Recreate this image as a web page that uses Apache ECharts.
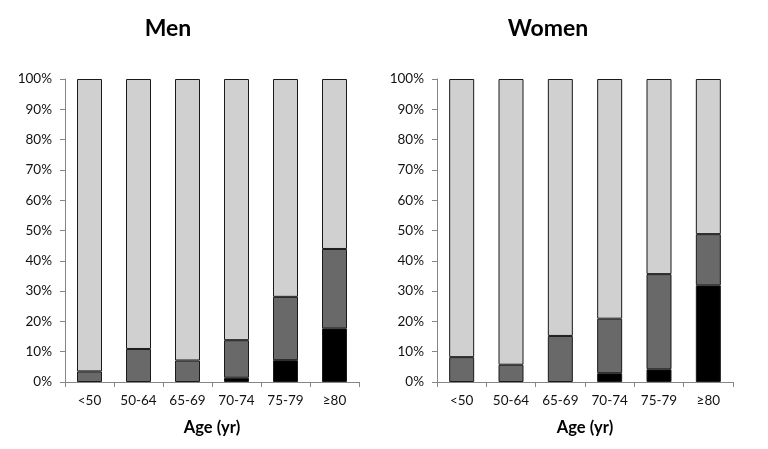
<!DOCTYPE html>
<html>
<head>
<meta charset="utf-8">
<script src="https://cdn.jsdelivr.net/npm/echarts@6/dist/echarts.min.js"></script>
<style>html,body{margin:0;padding:0;background:#fff;}#c{width:768px;height:449px;}</style>
</head>
<body>
<div id="c"></div>
<script>
const categories = ['<50', '50-64', '65-69', '70-74', '75-79', '≥80'];
const menBlack = [0, 0, 0, 1.4, 7.2, 17.7];
const menDark = [3.5, 10.9, 7.1, 12.4, 20.9, 26.2];
const menLight = [96.5, 89.1, 92.9, 86.2, 71.9, 56.1];
const womenBlack = [0, 0, 0, 2.9, 4.2, 31.9];
const womenDark = [8.2, 5.7, 15.2, 18.0, 31.4, 16.9];
const womenLight = [91.8, 94.3, 84.8, 79.1, 64.4, 51.2];
const panelTitles = ['Men', 'Women'];
const xName = 'Age (yr)';

const FONT = 'Lato, "Open Sans", sans-serif';
const axisColor = '#868686';
const chart = echarts.init(document.getElementById('c'));

function xAxis(i) {
  return {
    type: 'category', gridIndex: i, data: categories,
    name: xName, nameLocation: 'middle', nameGap: 37,
    nameTextStyle: { fontFamily: FONT, fontSize: 16.5, fontWeight: 'bold', color: '#000' },
    axisLine: { lineStyle: { color: axisColor, width: 1 } },
    axisTick: { show: true, alignWithLabel: false, length: 5, lineStyle: { color: axisColor } },
    axisLabel: { fontFamily: FONT, fontSize: 13.5, color: '#111', margin: 12 },
    splitLine: { show: false }
  };
}
function yAxis(i) {
  return {
    type: 'value', gridIndex: i, min: 0, max: 100, interval: 10,
    axisLine: { show: true, lineStyle: { color: axisColor, width: 1 } },
    axisTick: { show: true, length: 5, lineStyle: { color: axisColor } },
    axisLabel: { fontFamily: FONT, fontSize: 13.5, color: '#111', margin: 13, formatter: '{value}%' },
    splitLine: { show: false }
  };
}
function bar(i, data, color, stack) {
  return {
    type: 'bar', xAxisIndex: i, yAxisIndex: i, stack: stack,
    data: data.map(v => (v === 0 ? null : v)),
    barWidth: 25, silent: true,
    itemStyle: { color: color, borderColor: '#1a1a1a', borderWidth: 1 }
  };
}

chart.setOption({
  animation: false,
  title: [
    { text: panelTitles[0], left: 163, top: 12, textAlign: 'center',
      textStyle: { fontFamily: FONT, fontSize: 23, fontWeight: 'bold', color: '#000' } },
    { text: panelTitles[1], left: 543, top: 12, textAlign: 'center',
      textStyle: { fontFamily: FONT, fontSize: 23, fontWeight: 'bold', color: '#000' } }
  ],
  grid: [
    { left: 65, right: 409, top: 79, bottom: 67 },
    { left: 437, right: 35, top: 79, bottom: 67 }
  ],
  xAxis: [xAxis(0), xAxis(1)],
  yAxis: [yAxis(0), yAxis(1)],
  series: [
    bar(0, menBlack, '#000000', 'm'),
    bar(0, menDark, '#696969', 'm'),
    bar(0, menLight, '#d0d0d0', 'm'),
    bar(1, womenBlack, '#000000', 'w'),
    bar(1, womenDark, '#696969', 'w'),
    bar(1, womenLight, '#d0d0d0', 'w')
  ]
});
</script>
</body>
</html>
